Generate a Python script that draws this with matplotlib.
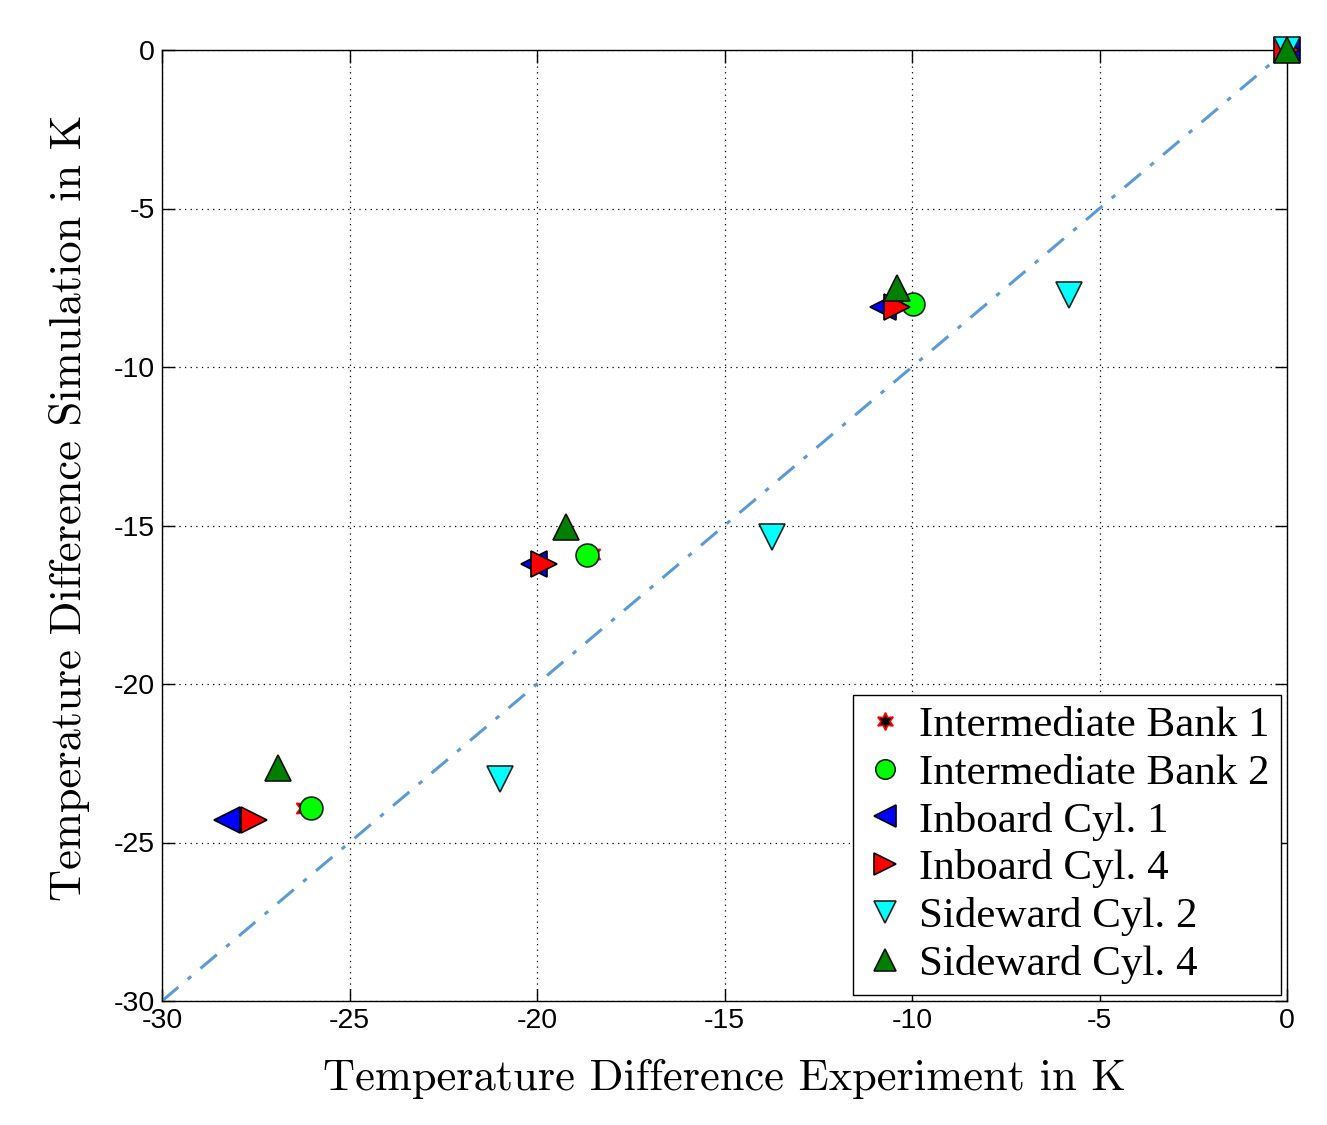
import matplotlib
matplotlib.use("Agg")
import matplotlib.pyplot as plt
import numpy as np

# Data (Experiment x, Simulation y)
series_names = ["Intermediate Bank 1", "Intermediate Bank 2", "Inboard Cyl. 1",
                "Inboard Cyl. 4", "Sideward Cyl. 2", "Sideward Cyl. 4"]
ib1_x = [0.0, -10.2, -18.55, -26.2]
ib1_y = [0.0, -7.95, -15.9, -23.9]
ib2_x = [0.0, -9.97, -18.67, -26.03]
ib2_y = [0.0, -8.0, -15.93, -23.9]
inb1_x = [0.0, -10.77, -20.08, -28.28]
inb1_y = [0.0, -8.1, -16.2, -24.3]
inb4_x = [0.0, -10.4, -19.81, -27.55]
inb4_y = [0.0, -8.1, -16.2, -24.3]
sid2_x = [0.0, -5.81, -13.73, -20.99]
sid2_y = [0.0, -7.73, -15.36, -23.0]
sid4_x = [0.0, -10.4, -19.23, -26.9]
sid4_y = [0.0, -7.5, -15.05, -22.65]
diag = [-30, 0]
xticks = [-30, -25, -20, -15, -10, -5, 0]
yticks = [-30, -25, -20, -15, -10, -5, 0]

fig = plt.figure(figsize=(13.27, 11.25), dpi=100)
ax = fig.add_axes([162/1327, 1-1001/1125, (1287-162)/1327, (1001-50)/1125])

ax.plot(diag, diag, linestyle=(0, (7, 4, 1.5, 4)), color="#5b9bd5", lw=2.2, zorder=2)

star = (6, 1, 0)
common = dict(linestyle="none", zorder=3, clip_on=False)
ax.plot(ib1_x, ib1_y, marker=star, ms=15, mfc="black", mec="red", mew=1.2,
        label=series_names[0], **common)
ax.plot(ib2_x, ib2_y, marker="o", ms=16.5, mfc="#00ff00", mec="#222222", mew=1.2,
        label=series_names[1], **common)
ax.plot(inb1_x, inb1_y, marker="<", ms=19, mfc="#0000ff", mec="black", mew=1.2,
        label=series_names[2], **common)
ax.plot(inb4_x, inb4_y, marker=">", ms=19, mfc="#ff0000", mec="black", mew=1.2,
        label=series_names[3], **common)
ax.plot(sid2_x, sid2_y, marker="v", ms=19, mfc="#00ffff", mec="#222222", mew=1.2,
        label=series_names[4], **common)
ax.plot(sid4_x, sid4_y, marker="^", ms=19, mfc="#007f00", mec="#111111", mew=1.2,
        label=series_names[5], **common)

ax.set_xlim(-30, 0)
ax.set_ylim(-30, 0)
ax.set_xticks(xticks)
ax.set_yticks(yticks)
ax.set_xticklabels([str(t) for t in xticks], fontfamily="Liberation Sans", fontsize=20.5)
ax.set_yticklabels([str(t) for t in yticks], fontfamily="Liberation Sans", fontsize=20.5)
ax.tick_params(direction="in", length=9, width=1, top=True, right=True, pad=5)
ax.grid(True, linestyle=(0, (1, 3.5)), color="black", lw=0.9)
for s in ax.spines.values():
    s.set_linewidth(1.0)
    s.set_color("black")

ax.set_xlabel("Temperature Difference Experiment in K", fontfamily="cmr10", fontsize=32, labelpad=18)
ax.set_ylabel("Temperature Difference Simulation in K", fontfamily="cmr10", fontsize=32)
ax.yaxis.set_label_coords(-0.064, 0.519)

leg = ax.legend(loc="lower right", prop={"family": "Liberation Serif", "size": 31},
                frameon=True, fancybox=False, edgecolor="black", framealpha=1,
                borderaxespad=0.15, handletextpad=0.3, labelspacing=0.2,
                borderpad=0.25, handlelength=1.0, markerscale=0.85)
leg.get_frame().set_linewidth(1.0)

fig.savefig("out.png", dpi=100)
